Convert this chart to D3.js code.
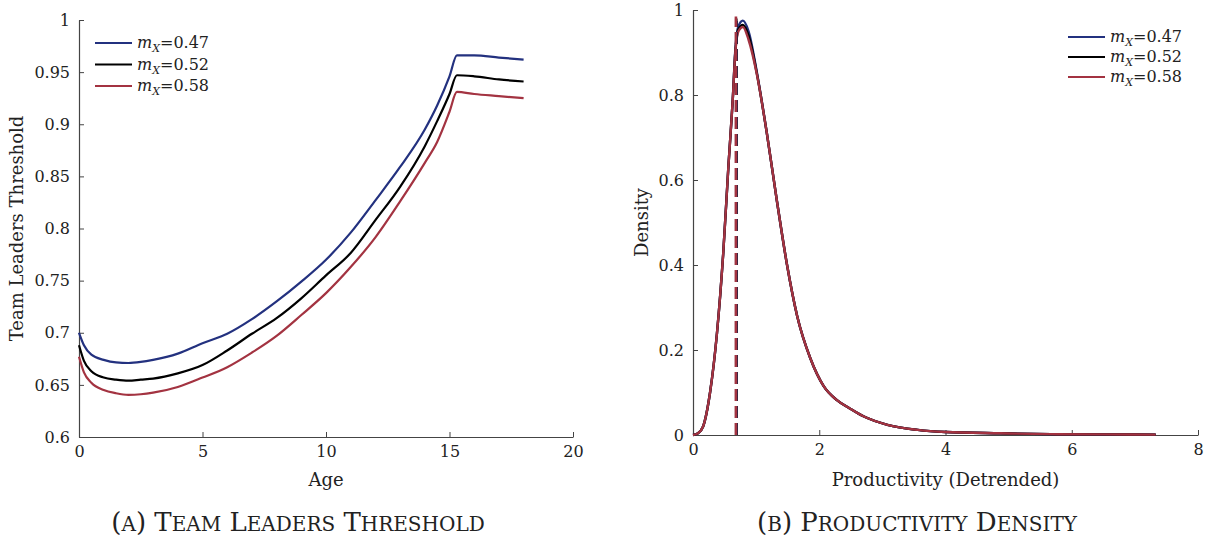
<!DOCTYPE html>
<html><head><meta charset="utf-8">
<script src="https://cdn.jsdelivr.net/npm/d3@7"></script>
<style>
body{margin:0;background:#fff;}
text{font-family:"DejaVu Serif",serif;fill:#222;}
</style></head>
<body><svg id="c" width="1211" height="539"></svg>
<script>
// ---- Panel A data ----
const ages = [0,0.2,0.5,1,1.5,2,2.5,3,4,5,6,7,8,9,10,11,12,13,14,14.5,15,15.3,16,17,18];
const thrM047 = [0.700,0.688,0.679,0.674,0.6715,0.671,0.672,0.674,0.680,0.690,0.699,0.713,0.730,0.749,0.770,0.796,0.827,0.859,0.895,0.918,0.946,0.966,0.966,0.964,0.962];
const thrM052 = [0.688,0.673,0.663,0.657,0.655,0.654,0.655,0.656,0.661,0.669,0.683,0.699,0.714,0.733,0.755,0.7765,0.808,0.840,0.879,0.903,0.929,0.947,0.946,0.943,0.941];
const thrM058 = [0.677,0.662,0.652,0.645,0.642,0.6405,0.641,0.6425,0.648,0.657,0.667,0.681,0.697,0.717,0.738,0.763,0.7915,0.826,0.863,0.883,0.912,0.931,0.929,0.927,0.925];
const ageTicks = [0,5,10,15,20];
const thrTicks = [0.6,0.65,0.7,0.75,0.8,0.85,0.9,0.95,1];

// ---- Panel B data ----
const prod = [0,0.08,0.16,0.27,0.38,0.48,0.56,0.63,0.67,0.72,0.79,0.88,1.01,1.17,1.33,1.49,1.65,1.86,2.07,2.28,2.49,2.70,3.08,3.56,4.0,4.87,5.67,6.5,7.33];
const densM047 = [0,0.004,0.02,0.10,0.24,0.43,0.63,0.79,0.905,0.962,0.975,0.95,0.855,0.71,0.55,0.40,0.28,0.18,0.115,0.082,0.062,0.044,0.024,0.012,0.007,0.004,0.002,0.0015,0.001];
const densM052 = [0,0.004,0.02,0.10,0.24,0.43,0.63,0.79,0.90,0.955,0.965,0.94,0.852,0.71,0.55,0.40,0.28,0.18,0.115,0.082,0.062,0.044,0.024,0.012,0.007,0.004,0.002,0.0015,0.001];
const densM058 = [0,0.004,0.02,0.10,0.24,0.43,0.63,0.79,0.90,0.95,0.96,0.93,0.85,0.71,0.55,0.40,0.28,0.18,0.115,0.082,0.062,0.044,0.024,0.012,0.007,0.004,0.002,0.0015,0.001];
const cutX = [0.69,0.685,0.68];
const cutTop = [0.975,0.98,0.985];
const prodTicks = [0,2,4,6,8];
const densTicks = [0,0.2,0.4,0.6,0.8,1];

const seriesNames = ["0.47","0.52","0.58"];
const colors = ["#23317f","#000000","#a33341"];

const svg = d3.select("#c");
const axisCol = "#444";
const FONT = '"DejaVu Serif",serif';

function drawAxes(g, x, y, xt, yt, xfmt, yfmt){
  const xa = d3.axisBottom(x).tickValues(xt).tickFormat(xfmt).tickSizeInner(-5).tickSizeOuter(0).tickPadding(9);
  const ya = d3.axisLeft(y).tickValues(yt).tickFormat(yfmt).tickSizeInner(-5).tickSizeOuter(0).tickPadding(9);
  const gx = g.append("g").attr("transform",`translate(0,${y.range()[0]})`).call(xa);
  const gy = g.append("g").attr("transform",`translate(${x.range()[0]},0)`).call(ya);
  [gx,gy].forEach(a=>{
    a.select(".domain").attr("stroke",axisCol).attr("stroke-width",1.2);
    a.selectAll(".tick line").attr("stroke",axisCol);
    a.selectAll("text").style("font-family",FONT).style("font-size","16px").attr("fill","#222");
  });
}

function legend(g, x0, y0, dy){
  seriesNames.forEach((n,i)=>{
    const yy = y0 + i*dy;
    g.append("line").attr("x1",x0).attr("x2",x0+37).attr("y1",yy).attr("y2",yy)
      .attr("stroke",colors[i]).attr("stroke-width",2.2);
    const t = g.append("text").attr("x",x0+42).attr("y",yy+5).style("font-size","16px");
    t.append("tspan").attr("font-style","italic").text("m");
    t.append("tspan").attr("font-style","italic").attr("font-size","11px").attr("dy",4).text("X");
    t.append("tspan").attr("dy",-4).text("=" + n);
  });
}

// manual small caps: uppercase letters big, lowercase rendered as smaller uppercase
function smallCaps(g, cx, y, str){
  const t = g.append("text").attr("x",cx).attr("y",y).attr("text-anchor","middle");
  const parts = str.match(/([a-z]+|[^a-z]+)/g);
  parts.forEach(p=>{
    const lower = /^[a-z]+$/.test(p);
    t.append("tspan").style("font-size", lower ? "20px" : "26px").text(lower ? p.toUpperCase() : p);
  });
}

// ---- Panel A ----
{
  const g = svg.append("g");
  const x = d3.scaleLinear().domain([0,20]).range([79,573]);
  const y = d3.scaleLinear().domain([0.6,1]).range([437,20]);
  drawAxes(g,x,y,ageTicks,thrTicks,d3.format("d"),d=>d3.format("")(+d.toFixed(2)));
  const line = d3.line().x((d,i)=>x(ages[i])).y(d=>y(d)).curve(d3.curveMonotoneX);
  [thrM047,thrM052,thrM058].forEach((s,i)=>{
    g.append("path").attr("d",line(s)).attr("fill","none").attr("stroke",colors[i]).attr("stroke-width",2.2);
  });
  legend(g,95,43,21.5);
  g.append("text").attr("x",x(10)).attr("y",486).attr("text-anchor","middle").style("font-size","18px").text("Age");
  g.append("text").attr("transform",`translate(23,${y(0.8)}) rotate(-90)`).attr("text-anchor","middle").style("font-size","18px").text("Team Leaders Threshold");
  smallCaps(g, 298, 531, "(a) Team Leaders Threshold");
}

// ---- Panel B ----
{
  const g = svg.append("g");
  const x = d3.scaleLinear().domain([0,8]).range([693,1198]);
  const y = d3.scaleLinear().domain([0,1]).range([435,10]);
  drawAxes(g,x,y,prodTicks,densTicks,d3.format("d"),d=>d3.format("")(+d.toFixed(1)));
  const line = d3.line().x((d,i)=>x(prod[i])).y(d=>y(d)).curve(d3.curveMonotoneX);
  [densM047,densM052,densM058].forEach((s,i)=>{
    g.append("path").attr("d",line(s)).attr("fill","none").attr("stroke",colors[i]).attr("stroke-width",2.4);
  });
  cutX.forEach((c,i)=>{
    g.append("line").attr("x1",x(c)).attr("x2",x(c)).attr("y1",y(0)).attr("y2",y(cutTop[i]))
      .attr("stroke",colors[i]).attr("stroke-width",2.6).attr("stroke-dasharray","12,5");
  });
  legend(g,1068,37,20);
  g.append("text").attr("x",x(4)).attr("y",486).attr("text-anchor","middle").style("font-size","18px").text("Productivity (Detrended)");
  g.append("text").attr("transform",`translate(648,${y(0.5)}) rotate(-90)`).attr("text-anchor","middle").style("font-size","18px").text("Density");
  smallCaps(g, 917, 531, "(b) Productivity Density");
}
</script></body></html>
